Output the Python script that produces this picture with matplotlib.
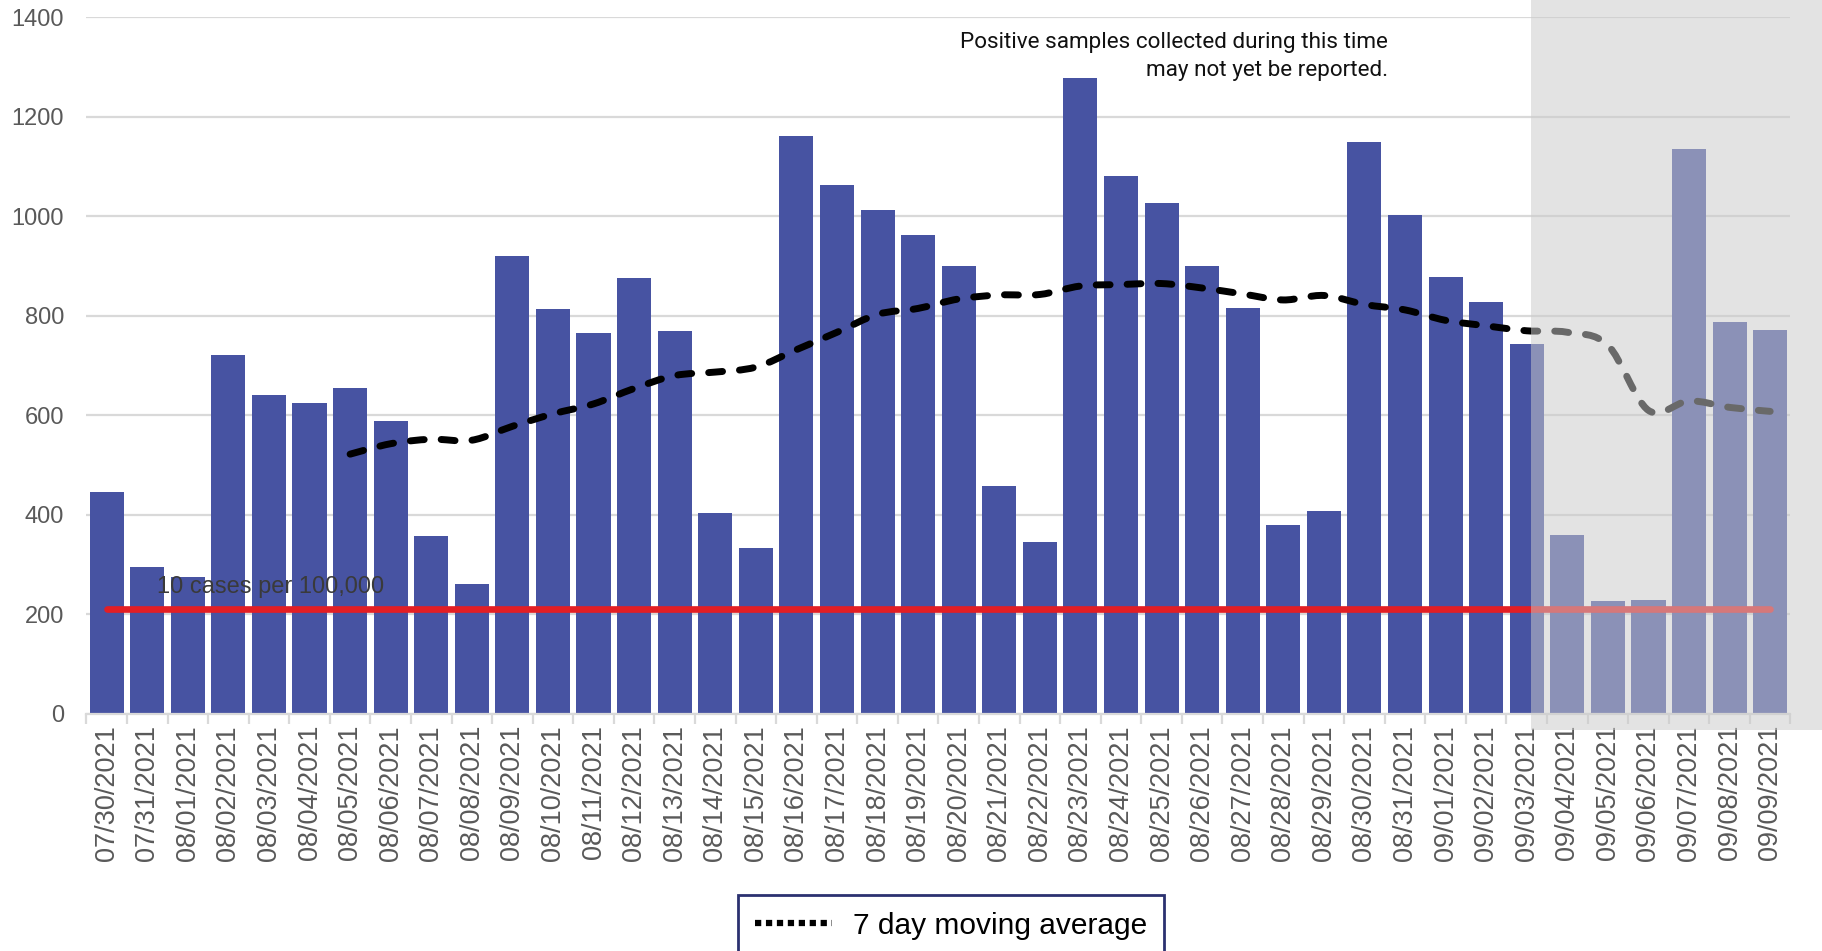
"""
Daily positive cases with 7 day moving average, 07/30/2021 - 09/09/2021.
Last days are shaded: samples may not be reported yet.
"""

import numpy as np
import matplotlib
matplotlib.use('Agg')
import matplotlib.pyplot as plt
from matplotlib.path import Path
from matplotlib.patches import PathPatch, Rectangle
from matplotlib.lines import Line2D
from matplotlib.transforms import blended_transform_factory

# ── Data ──────────────────────────────────────────────────────────────────────
DATES = [
    '07/30/2021', '07/31/2021', '08/01/2021', '08/02/2021', '08/03/2021',
    '08/04/2021', '08/05/2021', '08/06/2021', '08/07/2021', '08/08/2021',
    '08/09/2021', '08/10/2021', '08/11/2021', '08/12/2021', '08/13/2021',
    '08/14/2021', '08/15/2021', '08/16/2021', '08/17/2021', '08/18/2021',
    '08/19/2021', '08/20/2021', '08/21/2021', '08/22/2021', '08/23/2021',
    '08/24/2021', '08/25/2021', '08/26/2021', '08/27/2021', '08/28/2021',
    '08/29/2021', '08/30/2021', '08/31/2021', '09/01/2021', '09/02/2021',
    '09/03/2021', '09/04/2021', '09/05/2021', '09/06/2021', '09/07/2021',
    '09/08/2021', '09/09/2021',
]

CASES = [
    445, 295, 275, 722, 640, 625, 655, 588, 357, 260,
    920, 814, 765, 877, 769, 403, 333, 1162, 1063, 1012,
    963, 900, 458, 346, 1278, 1082, 1026, 900, 816, 379,
    407, 1150, 1003, 879, 827, 743, 360, 227, 229, 1136,
    788, 771,
]

# moving average starts at 08/05/2021
MA_DATES = DATES[6:]
MOVING_AVG = [
    522, 543, 552, 550, 578, 603, 623, 654, 680, 687,
    697, 732, 767, 803, 815, 834, 842, 843, 860, 863,
    865, 856, 844, 832, 841, 823, 812, 791, 780, 770,
    767, 741, 610, 629, 616, 608,
]

THRESHOLD       = 210
THRESHOLD_LABEL = '10 cases per 100,000'
NOTE            = 'Positive samples collected during this time\nmay not yet be reported.'
LEGEND_LABEL    = '7 day moving average'

# ── Style ─────────────────────────────────────────────────────────────────────
C_BAR   = '#4753A2'
C_RED   = '#E31E24'
C_GRID  = '#D9D9D9'
C_TICK  = '#595959'
C_SHADE = '#CBCBCB'
C_LEG   = '#2B3170'

FONT_AX   = ['Liberation Sans', 'DejaVu Sans']
FONT_NOTE = ['Roboto', 'DejaVu Sans']


def smooth_path(xs, ys):
    """Catmull-Rom through the points, as cubic Bezier segments (Excel 'smooth line')."""
    pts = np.column_stack([xs, ys]).astype(float)
    n = len(pts)
    verts, codes = [pts[0]], [Path.MOVETO]
    for i in range(n - 1):
        p0 = pts[max(i - 1, 0)]
        p1 = pts[i]
        p2 = pts[i + 1]
        p3 = pts[min(i + 2, n - 1)]
        verts += [p1 + (p2 - p0) / 6, p2 - (p3 - p1) / 6, p2]
        codes += [Path.CURVE4] * 3
    return Path(verts, codes)


fig = plt.figure(figsize=(18.22, 9.51), dpi=100)
fig.patch.set_facecolor('white')
ax = fig.add_axes([0.0474, 0.2494, 0.9353, 0.7323])

x = np.arange(len(DATES))
ax.bar(x, CASES, width=0.84, color=C_BAR, edgecolor='none', zorder=2)

# threshold line + label
ax.plot([x[0], x[-1]], [THRESHOLD, THRESHOLD], color=C_RED, lw=4.8,
        solid_capstyle='round', zorder=3)
ax.text(1.25, 255, THRESHOLD_LABEL, ha='left', va='center', fontsize=17,
        family=FONT_AX, color='#3A3A3A', zorder=4)

# smoothed moving average
ma_x = [DATES.index(d) for d in MA_DATES]
ma = PathPatch(smooth_path(ma_x, MOVING_AVG), fill=False, edgecolor='black',
               lw=5.0, linestyle=(0, (2.0, 2.45)), capstyle='round', zorder=5)
ax.add_patch(ma)

# note
ax.text(31.58, 1321, NOTE, ha='right', va='center', fontsize=16.2,
        family=FONT_NOTE, color='#111111', linespacing=1.45, zorder=6,
        multialignment='right')

# ── Axes ──────────────────────────────────────────────────────────────────────
ax.set_xlim(-0.5, len(DATES) - 0.5)
ax.set_ylim(0, 1400)
ax.set_yticks(np.arange(0, 1401, 200))
ax.yaxis.grid(True, color=C_GRID, lw=1.6, zorder=0)
ax.set_axisbelow(True)
for s in ['top', 'right', 'left']:
    ax.spines[s].set_visible(False)
ax.spines['bottom'].set_color(C_GRID)
ax.spines['bottom'].set_linewidth(1.6)

ax.set_xticks(x)
ax.set_xticklabels(DATES, rotation=90)
ax.set_xticks(np.arange(-0.5, len(DATES)), minor=True)
ax.tick_params(axis='x', which='major', length=0, pad=8, labelsize=19.5,
               labelcolor=C_TICK)
ax.tick_params(axis='x', which='minor', length=7, width=1.6, color=C_GRID)
ax.tick_params(axis='y', length=0, pad=16, labelsize=17, labelcolor=C_TICK)
for lbl in ax.get_xticklabels() + ax.get_yticklabels():
    lbl.set_family(FONT_AX)

# shaded "not yet reported" region, reaches past the axes to the figure edge
shade_tr = blended_transform_factory(ax.transData, ax.transAxes)
ax.add_patch(Rectangle((35.1, -0.023), 10, 1.06, transform=shade_tr,
                       facecolor=C_SHADE, alpha=0.52, edgecolor='none',
                       clip_on=False, zorder=10))

# ── Legend (cut off at the bottom, as in the original) ────────────────────────
handle = Line2D([], [], color='black', lw=4.5, linestyle=(0, (1, 0.75)),
                dash_capstyle='butt')
leg = fig.legend([handle], [LEGEND_LABEL], loc='upper center',
                 bbox_to_anchor=(0.522, 0.0587), bbox_transform=fig.transFigure,
                 frameon=True, fancybox=False, framealpha=1, edgecolor=C_LEG,
                 prop={'family': FONT_AX, 'size': 21.5}, handlelength=2.6,
                 handletextpad=0.7, borderpad=0.55, borderaxespad=0)
leg.get_frame().set_linewidth(2)

fig.savefig('out.png', dpi=100, facecolor='white')
